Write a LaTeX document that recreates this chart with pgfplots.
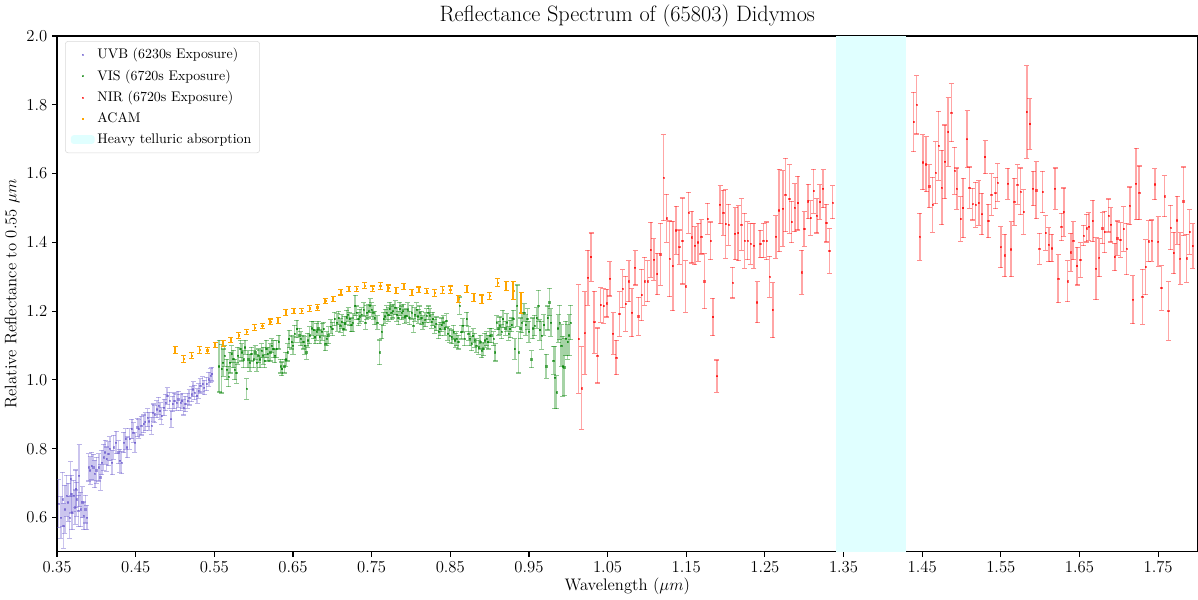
\documentclass[border=0pt]{standalone}
\usepackage{fontspec}
\usepackage{pgfplots}
\usepackage{pgfplotstable}
\pgfplotsset{compat=1.18}

\definecolor{uvbc}{RGB}{106,90,205}
\definecolor{visc}{RGB}{0,128,0}
\definecolor{nirc}{RGB}{255,0,0}
\definecolor{acamc}{RGB}{255,165,0}
\definecolor{bandc}{RGB}{224,255,255}

% UVB arm
\pgfplotstableread{
x y e
0.352 0.640 0.070
0.355 0.600 0.060
0.357 0.653 0.078
0.358 0.576 0.065
0.360 0.624 0.070
0.362 0.663 0.060
0.364 0.644 0.055
0.366 0.600 0.060
0.367 0.712 0.050
0.368 0.668 0.055
0.369 0.614 0.050
0.371 0.663 0.045
0.373 0.630 0.050
0.374 0.683 0.055
0.375 0.653 0.050
0.377 0.620 0.045
0.378 0.722 0.090
0.380 0.624 0.050
0.382 0.644 0.045
0.384 0.605 0.040
0.386 0.624 0.040
0.388 0.600 0.035
0.390 0.746 0.040
0.392 0.737 0.040
0.394 0.750 0.040
0.396 0.746 0.038
0.398 0.727 0.040
0.400 0.737 0.038
0.403 0.746 0.040
0.405 0.717 0.038
0.407 0.760 0.035
0.409 0.775 0.038
0.411 0.790 0.035
0.413 0.770 0.035
0.415 0.785 0.035
0.417 0.800 0.035
0.420 0.760 0.035
0.422 0.804 0.035
0.425 0.818 0.033
0.428 0.790 0.033
0.430 0.765 0.033
0.432 0.760 0.033
0.435 0.818 0.030
0.437 0.828 0.030
0.439 0.804 0.030
0.442 0.828 0.030
0.445 0.857 0.028
0.447 0.847 0.028
0.449 0.818 0.028
0.452 0.862 0.027
0.454 0.857 0.027
0.457 0.867 0.027
0.460 0.872 0.026
0.462 0.878 0.026
0.465 0.890 0.026
0.467 0.880 0.026
0.470 0.867 0.025
0.472 0.905 0.025
0.474 0.900 0.025
0.477 0.915 0.025
0.479 0.925 0.025
0.481 0.910 0.024
0.483 0.895 0.024
0.486 0.920 0.024
0.488 0.934 0.024
0.490 0.953 0.024
0.493 0.940 0.024
0.495 0.886 0.024
0.497 0.930 0.023
0.499 0.939 0.023
0.502 0.934 0.023
0.504 0.944 0.023
0.507 0.934 0.023
0.509 0.939 0.022
0.511 0.920 0.022
0.513 0.930 0.022
0.516 0.939 0.022
0.518 0.949 0.022
0.521 0.958 0.022
0.523 0.973 0.022
0.525 0.963 0.021
0.528 0.953 0.021
0.530 0.968 0.021
0.532 0.983 0.021
0.535 0.988 0.021
0.537 0.978 0.021
0.540 0.988 0.020
0.543 1.002 0.020
0.545 1.012 0.020
0.547 1.017 0.020
}\uvbdata

% VIS arm
\pgfplotstableread{
x y e
0.556 1.040 0.075
0.559 1.032 0.070
0.561 1.050 0.040
0.563 1.070 0.030
0.566 1.030 0.030
0.568 1.010 0.030
0.570 1.050 0.030
0.572 1.075 0.025
0.574 1.061 0.025
0.576 1.030 0.030
0.578 1.020 0.030
0.580 1.070 0.025
0.583 1.090 0.025
0.585 1.080 0.025
0.587 1.060 0.025
0.589 1.095 0.020
0.591 0.974 0.030
0.593 1.060 0.025
0.595 1.050 0.025
0.597 1.075 0.020
0.600 1.060 0.025
0.602 1.080 0.020
0.604 1.050 0.025
0.606 1.070 0.020
0.608 1.060 0.025
0.610 1.085 0.020
0.612 1.070 0.025
0.614 1.055 0.020
0.616 1.090 0.025
0.618 1.075 0.020
0.621 1.080 0.025
0.623 1.100 0.020
0.625 1.090 0.025
0.627 1.070 0.020
0.629 1.090 0.025
0.632 1.110 0.020
0.634 1.040 0.020
0.636 1.032 0.020
0.639 1.040 0.020
0.641 1.060 0.020
0.643 1.080 0.025
0.645 1.119 0.025
0.648 1.110 0.020
0.650 1.100 0.025
0.652 1.134 0.025
0.655 1.148 0.025
0.658 1.130 0.020
0.660 1.120 0.020
0.663 1.110 0.020
0.665 1.100 0.025
0.667 1.080 0.020
0.669 1.115 0.020
0.671 1.130 0.025
0.674 1.150 0.020
0.676 1.145 0.025
0.678 1.125 0.020
0.680 1.140 0.025
0.682 1.150 0.020
0.684 1.125 0.020
0.687 1.140 0.025
0.689 1.148 0.020
0.691 1.105 0.020
0.693 1.120 0.020
0.695 1.130 0.025
0.698 1.155 0.020
0.700 1.148 0.020
0.703 1.177 0.020
0.706 1.167 0.025
0.708 1.180 0.020
0.710 1.158 0.020
0.712 1.170 0.020
0.714 1.148 0.020
0.716 1.165 0.020
0.718 1.182 0.020
0.720 1.190 0.020
0.722 1.177 0.020
0.724 1.160 0.020
0.726 1.167 0.025
0.729 1.216 0.030
0.731 1.195 0.020
0.733 1.177 0.020
0.735 1.185 0.020
0.737 1.190 0.020
0.740 1.205 0.020
0.742 1.167 0.020
0.744 1.196 0.020
0.746 1.200 0.020
0.748 1.216 0.020
0.750 1.205 0.020
0.752 1.196 0.020
0.754 1.180 0.020
0.757 1.167 0.020
0.760 1.080 0.036
0.763 1.140 0.020
0.765 1.177 0.020
0.767 1.185 0.020
0.769 1.196 0.020
0.771 1.190 0.020
0.773 1.206 0.020
0.775 1.195 0.020
0.777 1.200 0.020
0.780 1.210 0.020
0.782 1.190 0.020
0.784 1.180 0.020
0.786 1.206 0.020
0.788 1.195 0.020
0.790 1.200 0.020
0.792 1.185 0.020
0.794 1.187 0.020
0.796 1.205 0.020
0.798 1.180 0.020
0.801 1.196 0.020
0.803 1.158 0.020
0.805 1.190 0.020
0.807 1.205 0.020
0.809 1.185 0.020
0.811 1.195 0.020
0.813 1.180 0.020
0.815 1.167 0.020
0.818 1.175 0.020
0.820 1.187 0.020
0.822 1.195 0.020
0.824 1.187 0.020
0.826 1.170 0.020
0.828 1.177 0.020
0.830 1.155 0.020
0.832 1.163 0.020
0.835 1.140 0.020
0.837 1.148 0.020
0.839 1.160 0.020
0.841 1.167 0.020
0.843 1.150 0.020
0.845 1.172 0.020
0.847 1.135 0.020
0.849 1.129 0.020
0.852 1.125 0.020
0.854 1.139 0.020
0.856 1.115 0.020
0.858 1.120 0.020
0.860 1.110 0.020
0.862 1.216 0.025
0.864 1.139 0.020
0.866 1.158 0.020
0.868 1.120 0.020
0.871 1.177 0.020
0.873 1.135 0.020
0.875 1.120 0.020
0.877 1.105 0.020
0.879 1.129 0.020
0.881 1.115 0.020
0.883 1.100 0.020
0.886 1.095 0.020
0.888 1.110 0.020
0.890 1.085 0.020
0.892 1.090 0.020
0.894 1.115 0.020
0.896 1.120 0.020
0.898 1.110 0.020
0.900 1.129 0.020
0.902 1.130 0.020
0.905 1.120 0.020
0.907 1.080 0.025
0.909 1.167 0.020
0.911 1.150 0.020
0.913 1.158 0.025
0.915 1.140 0.020
0.917 1.177 0.025
0.920 1.150 0.020
0.922 1.167 0.025
0.924 1.135 0.020
0.926 1.148 0.025
0.928 1.160 0.020
0.930 1.177 0.025
0.932 1.090 0.030
0.935 1.216 0.060
0.937 1.080 0.060
0.939 1.150 0.030
0.941 1.167 0.030
0.944 1.196 0.025
0.946 1.160 0.030
0.948 1.177 0.030
0.950 1.140 0.030
0.953 1.060 0.025
0.955 1.150 0.030
0.957 1.158 0.030
0.960 1.180 0.030
0.962 1.216 0.045
0.964 1.145 0.030
0.966 1.129 0.040
0.969 1.160 0.030
0.972 1.040 0.035
0.974 1.180 0.035
0.976 1.226 0.040
0.978 1.167 0.040
0.981 1.056 0.040
0.983 1.007 0.090
0.985 0.964 0.048
0.987 1.150 0.040
0.989 1.167 0.050
0.991 1.100 0.060
0.993 1.040 0.087
0.995 1.037 0.083
0.997 1.120 0.050
0.999 1.110 0.050
1.001 1.130 0.060
1.003 1.167 0.050
}\visdata

% NIR arm
\pgfplotstableread{
x y e
1.013 1.119 0.158
1.017 0.976 0.120
1.021 1.136 0.120
1.025 1.297 0.080
1.029 1.357 0.070
1.033 1.168 0.090
1.037 1.071 0.080
1.041 1.218 0.050
1.045 1.215 0.050
1.049 1.223 0.040
1.053 1.294 0.050
1.057 1.135 0.060
1.061 1.065 0.050
1.065 1.192 0.065
1.069 1.265 0.055
1.073 1.221 0.080
1.077 1.287 0.060
1.081 1.195 0.070
1.085 1.326 0.050
1.089 1.185 0.055
1.093 1.247 0.075
1.097 1.287 0.070
1.101 1.287 0.060
1.105 1.378 0.080
1.109 1.350 0.060
1.113 1.308 0.060
1.117 1.365 0.090
1.121 1.588 0.125
1.125 1.470 0.070
1.129 1.352 0.110
1.133 1.331 0.130
1.137 1.435 0.070
1.141 1.386 0.050
1.145 1.404 0.125
1.149 1.272 0.075
1.153 1.486 0.060
1.157 1.415 0.075
1.161 1.390 0.055
1.165 1.400 0.055
1.169 1.416 0.050
1.173 1.287 0.080
1.177 1.468 0.045
1.181 1.404 0.055
1.184 1.183 0.055
1.189 1.011 0.047
1.193 1.509 0.055
1.197 1.486 0.065
1.200 1.453 0.100
1.204 1.451 0.060
1.209 1.283 0.045
1.212 1.425 0.075
1.216 1.427 0.080
1.220 1.452 0.075
1.224 1.405 0.080
1.228 1.405 0.055
1.232 1.396 0.060
1.236 1.390 0.065
1.240 1.226 0.060
1.244 1.395 0.040
1.248 1.405 0.050
1.252 1.404 0.055
1.256 1.300 0.060
1.260 1.203 0.080
1.264 1.416 0.062
1.268 1.493 0.120
1.273 1.498 0.110
1.276 1.538 0.107
1.281 1.526 0.100
1.284 1.459 0.060
1.288 1.501 0.070
1.292 1.514 0.078
1.297 1.313 0.064
1.300 1.439 0.050
1.305 1.519 0.050
1.308 1.471 0.050
1.312 1.549 0.064
1.316 1.477 0.050
1.320 1.517 0.050
1.324 1.556 0.055
1.328 1.456 0.055
1.332 1.375 0.065
1.336 1.516 0.048
1.439 1.750 0.086
1.443 1.800 0.085
1.447 1.416 0.068
1.451 1.633 0.080
1.455 1.627 0.080
1.459 1.563 0.063
1.463 1.509 0.080
1.467 1.602 0.090
1.471 1.681 0.100
1.475 1.559 0.108
1.479 1.634 0.107
1.483 1.721 0.100
1.487 1.777 0.084
1.491 1.608 0.068
1.494 1.556 0.060
1.499 1.468 0.065
1.502 1.500 0.086
1.507 1.700 0.082
1.510 1.559 0.060
1.514 1.511 0.046
1.518 1.509 0.065
1.522 1.514 0.065
1.526 1.482 0.060
1.530 1.648 0.048
1.534 1.462 0.048
1.538 1.539 0.060
1.543 1.543 0.045
1.546 1.574 0.055
1.550 1.386 0.060
1.555 1.362 0.062
1.559 1.570 0.045
1.563 1.380 0.080
1.567 1.518 0.068
1.571 1.568 0.057
1.575 1.548 0.068
1.579 1.488 0.065
1.583 1.779 0.135
1.587 1.744 0.073
1.591 1.556 0.050
1.595 1.551 0.083
1.599 1.381 0.045
1.603 1.546 0.060
1.607 1.427 0.050
1.611 1.393 0.050
1.615 1.383 0.040
1.619 1.556 0.060
1.623 1.294 0.070
1.627 1.445 0.040
1.630 1.488 0.070
1.635 1.287 0.060
1.639 1.371 0.055
1.642 1.405 0.055
1.647 1.331 0.055
1.651 1.349 0.050
1.655 1.420 0.030
1.659 1.441 0.040
1.662 1.446 0.040
1.667 1.462 0.060
1.671 1.323 0.090
1.675 1.355 0.055
1.679 1.441 0.045
1.682 1.430 0.060
1.687 1.478 0.048
1.690 1.451 0.050
1.695 1.357 0.040
1.698 1.412 0.050
1.702 1.407 0.050
1.706 1.439 0.065
1.710 1.381 0.075
1.714 1.506 0.055
1.718 1.233 0.070
1.722 1.570 0.104
1.726 1.544 0.078
1.730 1.242 0.080
1.734 1.328 0.080
1.738 1.403 0.060
1.742 1.405 0.060
1.746 1.569 0.045
1.750 1.402 0.072
1.754 1.267 0.065
1.758 1.534 0.060
1.763 1.200 0.085
1.766 1.443 0.065
1.770 1.369 0.060
1.774 1.464 0.070
1.778 1.353 0.075
1.782 1.519 0.100
1.786 1.354 0.070
1.790 1.430 0.065
1.794 1.389 0.065
}\nirdata

% ACAM photometry
\pgfplotstableread{
x y e
0.500 1.088 0.010
0.511 1.061 0.010
0.521 1.071 0.010
0.531 1.087 0.009
0.541 1.086 0.009
0.551 1.102 0.008
0.561 1.106 0.008
0.571 1.116 0.008
0.581 1.130 0.009
0.591 1.139 0.008
0.601 1.152 0.008
0.611 1.157 0.008
0.621 1.169 0.008
0.631 1.173 0.008
0.641 1.196 0.008
0.651 1.200 0.008
0.661 1.200 0.008
0.671 1.208 0.008
0.681 1.211 0.008
0.691 1.229 0.008
0.701 1.235 0.008
0.711 1.255 0.008
0.721 1.264 0.008
0.731 1.264 0.008
0.741 1.274 0.008
0.751 1.265 0.008
0.761 1.274 0.010
0.771 1.267 0.009
0.781 1.259 0.009
0.791 1.272 0.008
0.801 1.255 0.009
0.810 1.262 0.008
0.820 1.258 0.008
0.830 1.253 0.010
0.840 1.262 0.010
0.850 1.262 0.011
0.860 1.235 0.011
0.871 1.264 0.010
0.880 1.240 0.012
0.890 1.235 0.012
0.900 1.244 0.010
0.910 1.283 0.012
0.921 1.274 0.013
0.930 1.260 0.025
0.940 1.224 0.030
}\acamdata

\pgfplotsset{
  spec/.style={only marks, mark=square*, mark size=0.45pt,
    mark options={#1, opacity=0.6}, color=#1,
    error bars/.cd, y dir=both, y explicit,
    error bar style={#1, opacity=0.35, line width=1.1pt},
    error mark options={rotate=90, #1, opacity=0.45, mark size=1.8pt, line width=0.8pt}},
}

\begin{document}
\begin{tikzpicture}
\begin{axis}[
  scale only axis,
  width=820pt, height=371pt,
  xmin=0.35, xmax=1.8, ymin=0.5, ymax=2.0,
  xtick={0.35,0.45,0.55,0.65,0.75,0.85,0.95,1.05,1.15,1.25,1.35,1.45,1.55,1.65,1.75},
  ytick={0.6,0.8,1.0,1.2,1.4,1.6,1.8,2.0},
  xticklabel style={/pgf/number format/.cd, fixed, fixed zerofill, precision=2},
  yticklabel style={/pgf/number format/.cd, fixed, fixed zerofill, precision=1},
  tick label style={font=\fontsize{12}{14}\selectfont},
  label style={font=\fontsize{12}{14}\selectfont},
  tick align=outside, tick pos=left,
  major tick length=3.5pt,
  tick style={black, line width=0.8pt},
  axis line style={line width=0.8pt},
  title={Reflectance Spectrum of (65803) Didymos},
  title style={font=\fontsize{16}{19}\selectfont, yshift=-3pt},
  xlabel={Wavelength ($\mu m$)},
  ylabel={Relative Reflectance to 0.55 $\mu m$},
  xlabel style={yshift=3pt},
  ylabel style={yshift=-2pt},
  legend style={at={(0.007,0.99)}, anchor=north west, font=\fontsize{10}{12}\selectfont,
    draw=black!15, rounded corners=2pt, row sep=2.5pt, inner xsep=4pt, inner ysep=3pt,
    cells={anchor=west}},
  legend cell align=left,
]
\addplot[spec=uvbc] table[x=x, y=y, y error=e] {\uvbdata};
\addlegendentry{UVB (6230s Exposure)}
\addplot[spec=visc] table[x=x, y=y, y error=e] {\visdata};
\addlegendentry{VIS (6720s Exposure)}
\addplot[spec=nirc] table[x=x, y=y, y error=e] {\nirdata};
\addlegendentry{NIR (6720s Exposure)}
\addplot[only marks, mark=square*, mark size=0.45pt, color=acamc,
  error bars/.cd, y dir=both, y explicit,
  error bar style={acamc, line width=1.1pt},
  error mark options={rotate=90, acamc, mark size=1.8pt, line width=0.8pt}]
  table[x=x, y=y, y error=e] {\acamdata};
\addlegendentry{ACAM}
\addplot[fill=bandc, draw=none,
  legend image code/.code={\fill[bandc] (0cm,-0.1cm) rectangle (0.6cm,0.12cm);}]
  coordinates {(1.34,2.0) (1.43,2.0)} \closedcycle;
\addlegendentry{Heavy telluric absorption}
\end{axis}
\end{tikzpicture}
\end{document}
